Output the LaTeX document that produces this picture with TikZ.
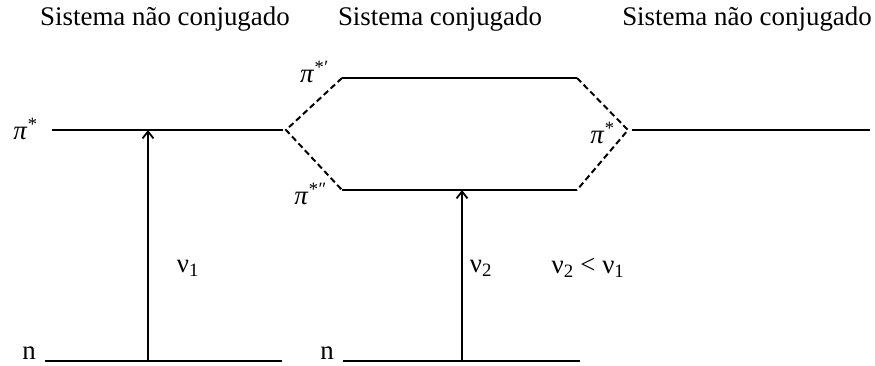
\documentclass[tikz,border=0pt]{standalone}
\usepackage{fontspec}
\setmainfont{Liberation Serif}
\usetikzlibrary{arrows.meta}
\tikzset{
  level/.style={line width=2.2pt},
  link/.style={line width=2pt, dash pattern=on 6pt off 3.5pt},
  trans/.style={-{Straight Barb[length=7pt,width=11pt,line width=1.8pt]}, line width=1.8pt},
  title/.style={font=\fontsize{27}{30}\selectfont},
  lab/.style={font=\fontsize{27}{30}\selectfont, inner sep=1pt}
}

\begin{document}
\begin{tikzpicture}[x=1bp,y=-1bp]
  \useasboundingbox (0,0) rectangle (875,365);
  % titles
  \node[title] (t1) at (165,19) {Sistema não conjugado};
  \node[title] (t2) at (440,19) {Sistema conjugado};
  \node[title] (t3) at (747,19) {Sistema não conjugado};
  % left system
  \coordinate (lpa) at (52,130);
  \coordinate (lpb) at (283,130);
  \coordinate (lna) at (45,361);
  \coordinate (lnb) at (282,361);
  \coordinate (lup) at (148,130);
  \coordinate (llo) at (148,361);
  \draw[level] (lpa) -- (lpb);
  \draw[level] (lna) -- (lnb);
  \draw[trans] (llo) -- (lup);
  \node[lab] (lpi) at (25,129) {\itshape π\textsuperscript{*}};
  \node[lab,anchor=base] (ln) at (29,359) {n};
  \node[lab] (nu1) at (188,268) {ν\textsubscript{1}};
  % conjugated system
  \coordinate (vl) at (286,130);
  \coordinate (vr) at (628,130);
  \coordinate (ua) at (342,78);
  \coordinate (ub) at (577,78);
  \coordinate (da) at (342,190);
  \coordinate (db) at (577,190);
  \coordinate (mna) at (343,361);
  \coordinate (mnb) at (580,361);
  \coordinate (mup) at (462,190);
  \coordinate (mlo) at (462,361);
  \draw[level] (ua) -- (ub);
  \draw[level] (da) -- (db);
  \draw[level] (mna) -- (mnb);
  \draw[link] (ua) -- (vl) -- (da);
  \draw[link] (ub) -- (vr) -- (db);
  \draw[trans] (mlo) -- (mup);
  \node[lab] (pu) at (314,72) {\itshape π\textsuperscript{*′}};
  \node[lab] (pd) at (310,194) {\itshape π\textsuperscript{*″}};
  \node[lab] (rpi) at (602,133) {\itshape π\textsuperscript{*}};
  \node[lab,anchor=base] (mn) at (327,359) {n};
  \node[lab] (nu2) at (481,268) {ν\textsubscript{2}};
  \node[lab] (cmp) at (588,268) {ν\textsubscript{2} < ν\textsubscript{1}};
  % right system
  \coordinate (rpa) at (632,130);
  \coordinate (rpb) at (870,130);
  \draw[level] (rpa) -- (rpb);
\end{tikzpicture}
\end{document}
